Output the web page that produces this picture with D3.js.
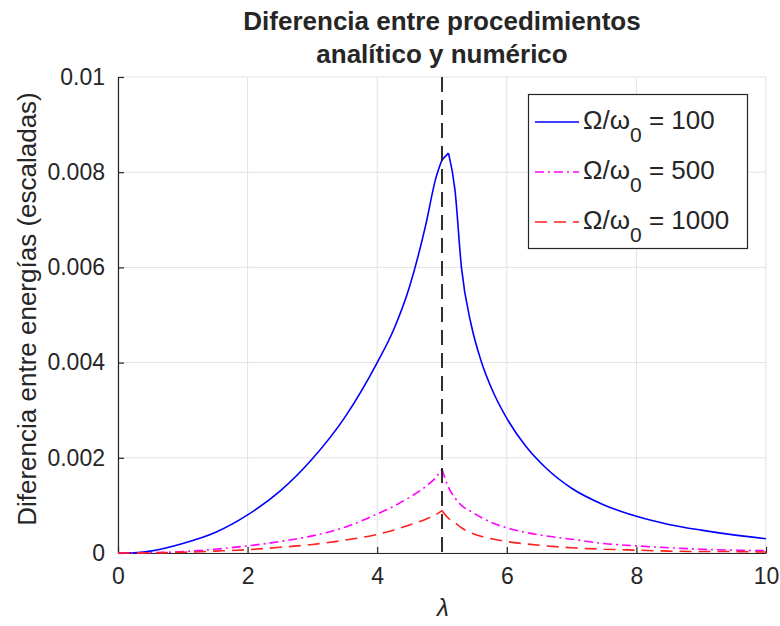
<html lang="es">
<head>
  <meta charset="UTF-8"/>
  <title>Diferencia entre procedimientos</title>
  <script src="https://d3js.org/d3.v7.min.js"></script>
  <style>
    body { margin: 0; background: #ffffff; }
    text { font-family: "Liberation Sans", Arial, sans-serif; fill: #262626; }
    .tick text { font-size: 23px; fill: #262626; }
  </style>
</head>
<body>
<svg id="chart"></svg>
<script>
// lambda values shared by the three series
const lambda = [0, 0.3, 0.5, 1, 1.5, 2, 2.5, 3, 3.5, 4, 4.25, 4.5, 4.75, 4.9, 5.0,
                5.1, 5.2, 5.3, 5.45, 5.6, 5.8, 6, 6.3, 6.6, 7, 7.5, 8, 8.5, 9, 9.5, 10];

// Omega/omega0 = 100
const diff100 = [0, 0.00001, 0.00004, 0.0002, 0.00043, 0.0008, 0.0013, 0.00198, 0.00285, 0.004,
                 0.00468, 0.0056, 0.0069, 0.00785, 0.00826,
                 0.0084, 0.00763, 0.006, 0.0048, 0.00405, 0.00335, 0.00283, 0.00223, 0.00179,
                 0.00136, 0.00101, 0.00077, 0.0006, 0.00048, 0.00038, 0.0003];
// Omega/omega0 = 500
const diff500 = [0, 0.000002, 0.000005, 0.00003, 0.00008, 0.00015, 0.00024, 0.00036, 0.00054, 0.00082,
                 0.00098, 0.00117, 0.0014, 0.00158, 0.00176,
                 0.00138, 0.00116, 0.001, 0.00087, 0.00075, 0.00062, 0.00053, 0.00043, 0.00036,
                 0.00029, 0.0002, 0.00015, 0.00011, 0.00008, 0.00006, 0.00005];
// Omega/omega0 = 1000
const diff1000 = [0, 0.000001, 0.000003, 0.000015, 0.00004, 0.00007, 0.00012, 0.00018, 0.00027, 0.00039,
                  0.00048, 0.00059, 0.00071, 0.0008, 0.00089,
                  0.00073, 0.00064, 0.00053, 0.00042, 0.00035, 0.00029, 0.00024, 0.00019, 0.00015,
                  0.00011, 0.00008, 0.00006, 0.00004, 0.00003, 0.00003, 0.00002];

const seriesNames = ["100", "500", "1000"];
const seriesColors = ["#0000ff", "#ff00ff", "#ff2020"];
const seriesDash = [null, "9,4,2,4", "12,7"];
const resonance = 5;

const xTicks = [0, 2, 4, 6, 8, 10];
const yTicks = [0, 0.002, 0.004, 0.006, 0.008, 0.01];
const yTickLabels = ["0", "0.002", "0.004", "0.006", "0.008", "0.01"];

const W = 780, H = 626;
const plotLeft = 118, plotRight = 766, plotTop = 77, plotBottom = 553;

const svg = d3.select("#chart").attr("width", W).attr("height", H);

const x = d3.scaleLinear().domain([0, 10]).range([plotLeft, plotRight]);
const y = d3.scaleLinear().domain([0, 0.01]).range([plotBottom, plotTop]);

// grid
const grid = svg.append("g").attr("stroke", "#e2e2e2").attr("stroke-width", 1);
grid.selectAll(".vg").data(xTicks).enter().append("line")
  .attr("x1", d => x(d)).attr("x2", d => x(d))
  .attr("y1", plotTop).attr("y2", plotBottom);
grid.selectAll(".hg").data(yTicks).enter().append("line")
  .attr("x1", plotLeft).attr("x2", plotRight)
  .attr("y1", d => y(d)).attr("y2", d => y(d));

// axes
const xAxis = svg.append("g")
  .attr("transform", `translate(0, ${plotBottom})`)
  .call(d3.axisBottom(x).tickValues(xTicks).tickFormat(d3.format("d"))
    .tickSizeInner(-6).tickSizeOuter(0).tickPadding(15));
const yAxis = svg.append("g")
  .attr("transform", `translate(${plotLeft}, 0)`)
  .call(d3.axisLeft(y).tickValues(yTicks).tickFormat((d, i) => yTickLabels[i])
    .tickSizeInner(-6).tickSizeOuter(0).tickPadding(13));
[xAxis, yAxis].forEach(a => {
  a.select(".domain").attr("stroke", "#262626").attr("stroke-width", 1.2);
  a.selectAll(".tick line").attr("stroke", "#262626").attr("stroke-width", 1.2);
  a.attr("font-family", null).attr("font-size", null);
});

// curves: smooth on each side of the peak, sharp corner at the peak
const allSeries = [diff100, diff500, diff1000];
const line = d3.line().x(d => x(d[0])).y(d => y(d[1])).curve(d3.curveMonotoneX);
const iRes = lambda.indexOf(resonance);
allSeries.forEach((vals, i) => {
  const pts = lambda.map((l, j) => [l, vals[j]]);
  const iPeak = d3.maxIndex(vals);
  const pieces = [pts.slice(0, iRes + 1)];
  if (iPeak > iRes) pieces.push(pts.slice(iRes, iPeak + 1));
  pieces.push(pts.slice(Math.max(iPeak, iRes)));
  svg.append("path")
    .attr("d", pieces.map(p => line(p)).join(""))
    .attr("fill", "none")
    .attr("stroke", seriesColors[i])
    .attr("stroke-width", 1.6)
    .attr("stroke-dasharray", seriesDash[i]);
});

// resonance line
svg.append("line")
  .attr("x1", x(resonance)).attr("x2", x(resonance))
  .attr("y1", y(0.01)).attr("y2", y(0))
  .attr("stroke", "#1a1a1a").attr("stroke-width", 1.8)
  .attr("stroke-dasharray", "15,8");

// legend
const lg = svg.append("g");
lg.append("rect")
  .attr("x", 528.5).attr("y", 94.5).attr("width", 219).attr("height", 154)
  .attr("fill", "#ffffff").attr("stroke", "#262626").attr("stroke-width", 1.2);
seriesNames.forEach((name, i) => {
  const ly = 122 + i * 50;
  lg.append("line")
    .attr("x1", 535).attr("x2", 579).attr("y1", ly).attr("y2", ly)
    .attr("stroke", seriesColors[i]).attr("stroke-width", 1.6)
    .attr("stroke-dasharray", seriesDash[i]);
  const t = lg.append("text").attr("x", 583).attr("y", ly + 6.5).attr("font-size", 26);
  t.append("tspan").text("Ω/ω");
  t.append("tspan").attr("dy", 13).attr("font-size", 21).text("0");
  t.append("tspan").attr("dy", -13).text(" = " + name);
});

// title
svg.append("text")
  .attr("x", 442).attr("y", 30).attr("text-anchor", "middle")
  .attr("font-size", 26).attr("font-weight", "bold").attr("fill", "#000")
  .text("Diferencia entre procedimientos");
svg.append("text")
  .attr("x", 442).attr("y", 63).attr("text-anchor", "middle")
  .attr("font-size", 26).attr("font-weight", "bold").attr("fill", "#000")
  .text("analítico y numérico");

// axis labels
svg.append("text")
  .attr("x", 443).attr("y", 616).attr("text-anchor", "middle")
  .attr("font-size", 24).attr("font-style", "italic")
  .text("λ");
svg.append("text")
  .attr("transform", `translate(36, ${(plotTop + plotBottom) / 2 - 6}) rotate(-90)`)
  .attr("text-anchor", "middle")
  .attr("font-size", 26)
  .text("Diferencia entre energías (escaladas)");
</script>
</body>
</html>
